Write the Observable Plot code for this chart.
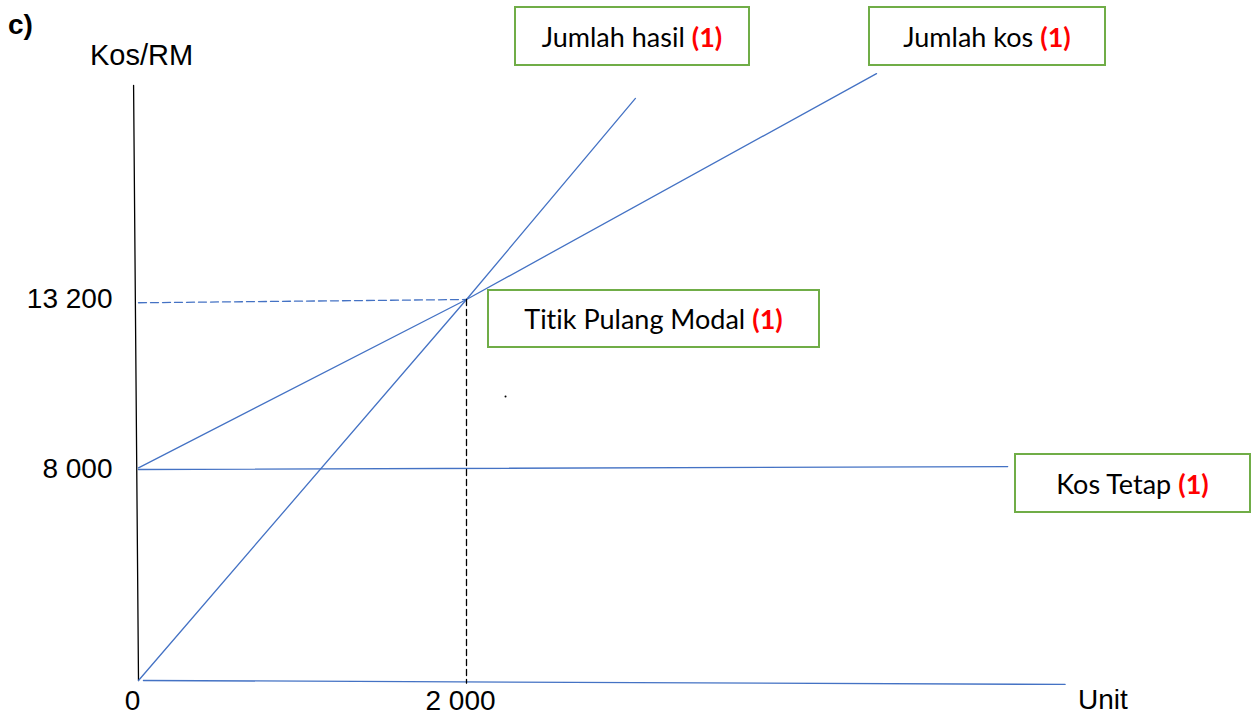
<!DOCTYPE html>
<html>
<head>
<meta charset="utf-8">
<script src="https://cdn.jsdelivr.net/npm/d3@7"></script>
<script src="https://cdn.jsdelivr.net/npm/@observablehq/plot@0.6"></script>
<style>
  html, body { margin: 0; padding: 0; background: #fff; }
  #wrap { position: relative; width: 1251px; height: 720px; overflow: hidden; }
  #wrap svg { position: absolute; left: 0; top: 0; }
  .lbl { position: absolute; font-family: "Liberation Sans", Arial, sans-serif; font-size: 28px; color: #000; white-space: nowrap; line-height: 1; }
  .box { position: absolute; box-sizing: border-box; border: 2.5px solid #70AD47; background: #fff;
         display: flex; align-items: center; justify-content: center;
         font-family: Lato, "Open Sans", sans-serif; font-size: 27px; color: #000; white-space: nowrap;
         font-variant-ligatures: none; }
  .box b { color: #ff0000; margin-left: 7px; }
</style>
</head>
<body>
<div id="wrap"></div>
<script>
// ---- data (units, RM) ----
const xTicks = [0, 2000];
const xTickLabels = ["0", "2 000"];
const yTicks = [8000, 13200];
const yTickLabels = ["8 000", "13 200"];

// line endpoints
const revenueX = [0, 2000, 3030];
const revenueY = [0, 13200, 19350];
const costX = [0, 2000, 4500];
const costY = [8050, 13200, 20110];
const fixedX = [0, 5300];
const fixedY = [8000, 8090];
const hAxisX = [30, 5650];
const hAxisY = [0, -150];
const vAxisX = [0, -30];
const vAxisY = [0, 19750];
const breakEvenX = 2000;
const breakEvenY = 13200;
const guideHX = [0, 2000];
const guideHY = [13100, 13200];
const guideVY = [13200, -100];
const dotX = [2238];
const dotY = [10230];

const pts = (xs, ys) => xs.map((x, i) => ({x, y: ys[i]}));

const blue = "#4472C4";
const chart = Plot.plot({
  width: 1251,
  height: 720,
  marginTop: 0, marginRight: 0, marginBottom: 40, marginLeft: 138,
  x: {type: "linear", domain: [0, 2000], range: [138, 466]},
  y: {type: "linear", domain: [0, 8000, 13200], range: [680, 469, 299]},
  style: {fontFamily: "Liberation Sans, Arial, sans-serif", background: "white"},
  marks: [
    Plot.line(pts(vAxisX, vAxisY), {x: "x", y: "y", stroke: "#000", strokeWidth: 1.3}),
    Plot.line(pts(hAxisX, hAxisY), {x: "x", y: "y", stroke: blue, strokeWidth: 1.3}),
    Plot.line(pts(fixedX, fixedY), {x: "x", y: "y", stroke: blue, strokeWidth: 1.3}),
    Plot.line(pts(costX, costY), {x: "x", y: "y", stroke: blue, strokeWidth: 1.3}),
    Plot.line(pts(revenueX, revenueY), {x: "x", y: "y", stroke: blue, strokeWidth: 1.3}),
    Plot.line(pts(guideHX, guideHY), {x: "x", y: "y", stroke: blue, strokeWidth: 1.3, strokeDasharray: "8,4"}),
    Plot.line(pts([breakEvenX, breakEvenX], guideVY), {x: "x", y: "y", stroke: "#000", strokeWidth: 1.3, strokeDasharray: "6,4"}),
    Plot.dot(pts(dotX, dotY), {x: "x", y: "y", r: 1, fill: "#000", stroke: null}),
    Plot.axisY({ticks: yTicks, tickFormat: (d) => yTickLabels[yTicks.indexOf(d)], tickSize: 0, tickPadding: 26, fontSize: 28, label: null, fill: "#000"}),
    Plot.axisX({ticks: xTicks, tickFormat: (d) => xTickLabels[xTicks.indexOf(d)], tickSize: 0, tickPadding: 10, dx: -6, fontSize: 28, label: null, fill: "#000"})
  ]
});

const wrap = document.getElementById("wrap");
wrap.appendChild(chart);

function addLabel(text, left, top, extra) {
  const d = document.createElement("div");
  d.className = "lbl";
  d.textContent = text;
  d.style.left = left + "px";
  d.style.top = top + "px";
  if (extra) Object.assign(d.style, extra);
  wrap.appendChild(d);
}
addLabel("c)", 8, 11, {fontWeight: "bold", fontSize: "28px"});
addLabel("Kos/RM", 90, 41, {fontSize: "29px"});
addLabel("Unit", 1078, 686);

const boxes = [
  {text: "Jumlah hasil", left: 514, top: 6, w: 236, h: 60},
  {text: "Jumlah kos", left: 868, top: 6, w: 238, h: 60},
  {text: "Titik Pulang Modal", left: 487, top: 289, w: 333, h: 59},
  {text: "Kos Tetap", left: 1014, top: 453, w: 237, h: 60}
];
for (const b of boxes) {
  const d = document.createElement("div");
  d.className = "box";
  d.style.left = b.left + "px";
  d.style.top = b.top + "px";
  d.style.width = b.w + "px";
  d.style.height = b.h + "px";
  d.innerHTML = `<span>${b.text}</span><b>(1)</b>`;
  wrap.appendChild(d);
}
</script>
</body>
</html>
